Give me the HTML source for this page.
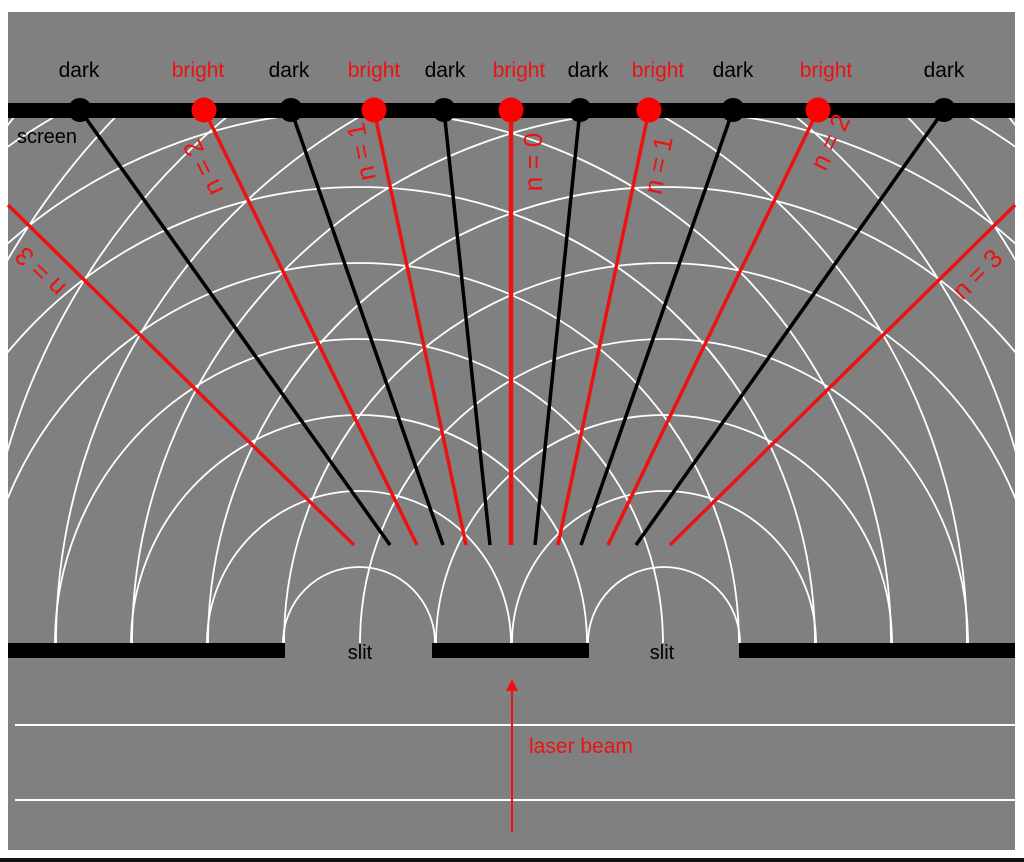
<!DOCTYPE html>
<html><head><meta charset="utf-8"><style>
html,body{margin:0;padding:0;background:#fff;width:1024px;height:862px;overflow:hidden;}
svg{display:block;}
text{font-family:"Liberation Sans",Arial,sans-serif;}
</style></head><body>
<svg width="1024" height="862" viewBox="0 0 1024 862" xmlns="http://www.w3.org/2000/svg">
<defs>
<clipPath id="c"><rect x="8" y="118" width="1007" height="525"/></clipPath>
</defs>
<rect x="0" y="0" width="1024" height="862" fill="#fff"/>
<rect x="8" y="12" width="1007" height="838" fill="#808080"/>
<rect x="0" y="858" width="1024" height="4" fill="#111"/>
<g clip-path="url(#c)" fill="none" stroke="#fff" stroke-width="1.8">
<circle cx="359" cy="643" r="76"/><circle cx="359" cy="643" r="152"/><circle cx="359" cy="643" r="228"/><circle cx="359" cy="643" r="304"/><circle cx="359" cy="643" r="380"/><circle cx="359" cy="643" r="456"/><circle cx="359" cy="643" r="532"/><circle cx="359" cy="643" r="608"/><circle cx="359" cy="643" r="684"/><circle cx="359" cy="643" r="760"/><circle cx="359" cy="643" r="836"/><circle cx="359" cy="643" r="912"/>
<circle cx="664" cy="643" r="76"/><circle cx="664" cy="643" r="152"/><circle cx="664" cy="643" r="228"/><circle cx="664" cy="643" r="304"/><circle cx="664" cy="643" r="380"/><circle cx="664" cy="643" r="456"/><circle cx="664" cy="643" r="532"/><circle cx="664" cy="643" r="608"/><circle cx="664" cy="643" r="684"/><circle cx="664" cy="643" r="760"/><circle cx="664" cy="643" r="836"/><circle cx="664" cy="643" r="912"/>
</g>
<g stroke-width="3.5" stroke-linecap="butt">
<line x1="354" y1="545" x2="8" y2="205" stroke="#ee1111"/>
<line x1="390" y1="545" x2="80" y2="110" stroke="#000"/>
<line x1="417" y1="545" x2="204" y2="110" stroke="#ee1111"/>
<line x1="443" y1="545" x2="291" y2="110" stroke="#000"/>
<line x1="466" y1="545" x2="374" y2="110" stroke="#ee1111"/>
<line x1="490" y1="545" x2="444" y2="110" stroke="#000"/>
<line x1="511" y1="545" x2="511" y2="110" stroke="#ee1111" stroke-width="4.5"/>
<line x1="535" y1="545" x2="580" y2="110" stroke="#000"/>
<line x1="558" y1="545" x2="649" y2="110" stroke="#ee1111"/>
<line x1="581" y1="545" x2="733" y2="110" stroke="#000"/>
<line x1="608" y1="545" x2="818" y2="110" stroke="#ee1111"/>
<line x1="636" y1="545" x2="944" y2="110" stroke="#000"/>
<line x1="670" y1="545" x2="1015" y2="205" stroke="#ee1111"/>
</g>
<rect x="8" y="103" width="1007" height="15" fill="#000"/>
<g fill="#000"><circle cx="80" cy="110" r="12"/><circle cx="291" cy="110" r="12"/><circle cx="444" cy="110" r="12"/><circle cx="580" cy="110" r="12"/><circle cx="733" cy="110" r="12"/><circle cx="944" cy="110" r="12"/></g>
<g fill="#ff0000"><circle cx="204" cy="110" r="12.5"/><circle cx="374" cy="110" r="12.5"/><circle cx="511" cy="110" r="12.5"/><circle cx="649" cy="110" r="12.5"/><circle cx="818" cy="110" r="12.5"/></g>
<g font-size="21" text-anchor="middle">
<text x="79" y="77" fill="#000">dark</text>
<text x="198" y="77" fill="#ee1111">bright</text>
<text x="289" y="77" fill="#000">dark</text>
<text x="374" y="77" fill="#ee1111">bright</text>
<text x="445" y="77" fill="#000">dark</text>
<text x="519" y="77" fill="#ee1111">bright</text>
<text x="588" y="77" fill="#000">dark</text>
<text x="658" y="77" fill="#ee1111">bright</text>
<text x="733" y="77" fill="#000">dark</text>
<text x="826" y="77" fill="#ee1111">bright</text>
<text x="944" y="77" fill="#000">dark</text>
</g>
<text x="17" y="143" font-size="20" fill="#000">screen</text>
<g font-size="26" fill="#ee1111" text-anchor="middle" dominant-baseline="central">
<text transform="translate(40,272) rotate(-135.5)">n = 3</text>
<text transform="translate(203,168) rotate(-116.1)">n = 2</text>
<text transform="translate(361,152) rotate(-101.9)">n = 1</text>
<text transform="translate(533,162) rotate(-90)">n = 0</text>
<text transform="translate(658,165) rotate(-78.2)">n = 1</text>
<text transform="translate(830,142) rotate(-64.2)">n = 2</text>
<text transform="translate(977,274) rotate(-44.6)">n = 3</text>
</g>
<g fill="#000">
<rect x="8" y="643" width="277" height="15"/>
<rect x="432" y="643" width="157" height="15"/>
<rect x="739" y="643" width="276" height="15"/>
</g>
<text x="360" y="659" font-size="20" fill="#000" text-anchor="middle">slit</text>
<text x="662" y="659" font-size="20" fill="#000" text-anchor="middle">slit</text>
<line x1="15" y1="725" x2="1015" y2="725" stroke="#fff" stroke-width="2"/>
<line x1="15" y1="800" x2="1015" y2="800" stroke="#fff" stroke-width="2"/>
<line x1="512" y1="832" x2="512" y2="690" stroke="#ee1111" stroke-width="2"/>
<polygon points="512,679 506,691 518,691" fill="#ee1111"/>
<text x="529" y="753" font-size="21" fill="#ee1111">laser beam</text>
</svg>
</body></html>
